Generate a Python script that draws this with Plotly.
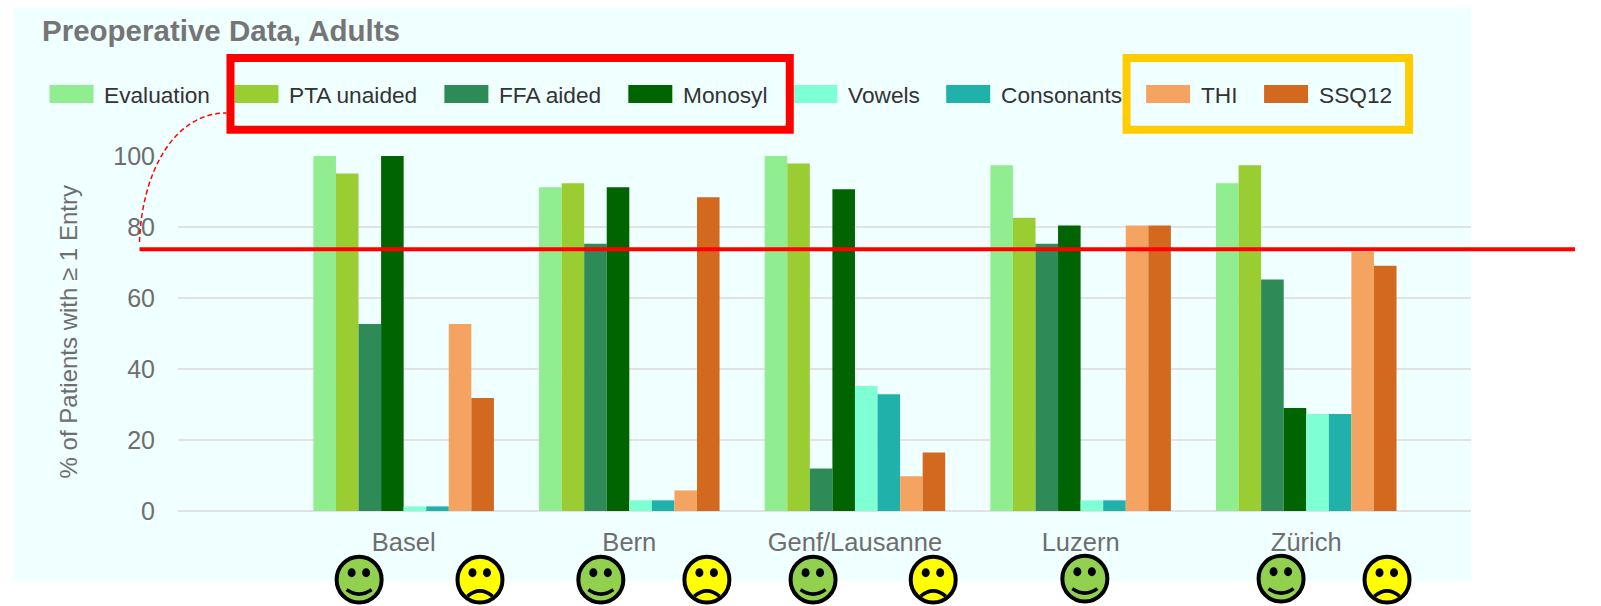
import plotly.graph_objects as go

CATEGORIES = ["Basel", "Bern", "Genf/Lausanne", "Luzern", "Zürich"]
EVALUATION = [100, 91.2, 100, 97.4, 92.3]
PTA_UNAIDED = [95.1, 92.3, 97.9, 82.6, 97.4]
FFA_AIDED = [52.7, 75.3, 12, 75.3, 65.2]
MONOSYL = [100, 91.2, 90.6, 80.4, 29]
VOWELS = [1.3, 3, 35.2, 3, 27.3]
CONSONANTS = [1.3, 3, 32.9, 3, 27.3]
THI = [52.7, 5.8, 9.8, 80.4, 73]
SSQ12 = [31.8, 88.4, 16.5, 80.4, 69.1]

SERIES = [
    ("Evaluation", EVALUATION, "#90EE90"),
    ("PTA unaided", PTA_UNAIDED, "#9ACD32"),
    ("FFA aided", FFA_AIDED, "#2E8B57"),
    ("Monosyl", MONOSYL, "#006400"),
    ("Vowels", VOWELS, "#7FFFD4"),
    ("Consonants", CONSONANTS, "#20B2AA"),
    ("THI", THI, "#F4A460"),
    ("SSQ12", SSQ12, "#D2691E"),
]

W, H = 1601, 606
L, R, T, B = 177.5, 1471, 156, 511.3
FONT = "Liberation Sans"
GREY = "#6e6e6e"


def px(x):
    return (x - L) / (R - L)


def py(y):
    return (B - y) / (B - T)


def path(fmt, *pts):
    vals = []
    for x, y in pts:
        vals += [px(x), py(y)]
    return fmt.format(*vals)


fig = go.Figure()
for name, vals, color in SERIES:
    fig.add_trace(go.Bar(name=name, x=CATEGORIES, y=vals, marker_color=color,
                         marker_line_width=0, showlegend=False))

shapes = []
annotations = []


def rect(x0, y0, x1, y1, **kw):
    shapes.append(dict(type="rect", xref="paper", yref="paper",
                       x0=px(x0), x1=px(x1), y0=py(y0), y1=py(y1), **kw))


# panel background
rect(13, 7, 1471, 581, fillcolor="#F0FFFF", line_width=0, layer="below")

# hand-placed legend, as in the reference
LEGEND_LEFT = [49, 234, 444, 628, 793, 946, 1146, 1264]
for (name, _, color), lx in zip(SERIES, LEGEND_LEFT):
    rect(lx, 85, lx + 44, 103, fillcolor=color, line_width=0)
    annotations.append(dict(text=name, xref="paper", yref="paper", x=px(lx + 52.5), y=py(95),
                            xanchor="left", yanchor="middle", showarrow=False,
                            font=dict(family=FONT, size=22.7, color="#333333")))

# highlight boxes
rect(230, 58, 789.5, 129.7, line=dict(color="#FF0000", width=8), fillcolor="rgba(0,0,0,0)")
rect(1126.4, 58, 1409, 129.7, line=dict(color="#FFCC00", width=8), fillcolor="rgba(0,0,0,0)")

# threshold line and dashed connector
shapes.append(dict(type="line", xref="paper", yref="paper", x0=px(139), x1=px(1575),
                   y0=py(249.3), y1=py(249.3), line=dict(color="#FF0000", width=4)))
shapes.append(dict(type="path", xref="paper", yref="paper",
                   path=path("M{},{} C{},{} {},{} {},{}", (139, 242), (141, 175), (172, 113), (226, 113)),
                   line=dict(color="#FF0000", width=1.5, dash="5px,3px")))


def smiley(cx, cy, happy):
    fill = "#92D050" if happy else "#FFFF00"
    rect(cx - 22.5, cy - 23, cx + 22.5, cy + 23, fillcolor=fill,
         line=dict(color="#000000", width=4))
    shapes[-1]["type"] = "circle"
    for dx in (-7.5, 7):
        rect(cx + dx - 4, cy - 11.5, cx + dx + 4, cy - 2.5, fillcolor="#000000", line_width=0)
        shapes[-1]["type"] = "circle"
    if happy:
        mouth = path("M{},{} Q{},{} {},{}", (cx - 12.5, cy + 10), (cx, cy + 19), (cx + 12.5, cy + 10))
    else:
        mouth = path("M{},{} Q{},{} {},{}", (cx - 12.5, cy + 16.5), (cx, cy + 6), (cx + 12.5, cy + 16.5))
    shapes.append(dict(type="path", xref="paper", yref="paper", path=mouth,
                       line=dict(color="#000000", width=3.5)))


SMILEYS = [(358.7, 580, True), (479.6, 580, False), (600.5, 580, True), (706.6, 580, False),
           (812.8, 580, True), (933, 580, False), (1084.7, 579, True), (1281, 579, True),
           (1387, 580, False)]
for s in SMILEYS:
    smiley(*s)

annotations.append(dict(text="<b>Preoperative Data, Adults</b>", xref="paper", yref="paper",
                        x=px(39.5), y=py(30.5), xanchor="left", yanchor="middle", showarrow=False,
                        font=dict(family=FONT, size=29.5, color="#757575")))
annotations.append(dict(text="% of Patients with ≥ 1 Entry", xref="paper", yref="paper",
                        x=px(68), y=py(332), xanchor="center", yanchor="middle", showarrow=False,
                        textangle=-90, font=dict(family=FONT, size=24, color=GREY)))

fig.update_layout(
    width=W, height=H, autosize=False,
    margin=dict(l=L, r=W - R, t=T, b=H - B, pad=0),
    paper_bgcolor="#FFFFFF", plot_bgcolor="rgba(0,0,0,0)",
    barmode="group", bargap=0.2, bargroupgap=0,
    shapes=shapes, annotations=annotations,
    xaxis=dict(type="category", categoryorder="array", categoryarray=CATEGORIES,
               range=[-1, 4.73], showgrid=False, showline=False, zeroline=False, ticks="",
               ticklabelstandoff=13, tickfont=dict(family=FONT, size=25.5, color=GREY)),
    yaxis=dict(range=[0, 100], tickvals=[0, 20, 40, 60, 80, 100], gridcolor="#E2E2E2", gridwidth=2,
               zeroline=True, zerolinecolor="#E2E2E2", zerolinewidth=2, showline=False, ticks="",
               ticklabelstandoff=22, tickfont=dict(family=FONT, size=25, color=GREY)),
)

fig.write_html("out.html", config=dict(displayModeBar=False),
               post_script="document.body.style.margin='0';document.body.style.overflow='hidden';")
